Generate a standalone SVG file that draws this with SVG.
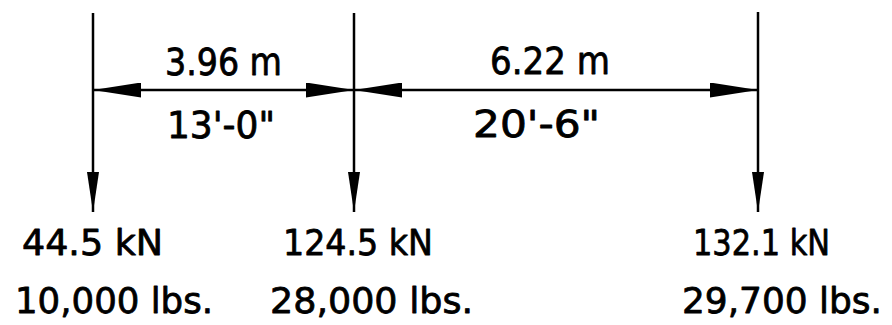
<svg xmlns="http://www.w3.org/2000/svg" width="892" height="325" viewBox="0 0 892 325">
  <style>
    .ln { stroke: #000; stroke-width: 2.5; fill: none; }
    .t { font-family: "DejaVu Sans", "Liberation Sans", sans-serif; fill: #000; stroke: #000; stroke-width: 0.8; stroke-linejoin: round; }
    .dim { font-size: 38px; }
    .ld { font-size: 36px; }
  </style>
  <defs>
    <marker id="vhead" viewBox="0 0 40 12" refX="40" refY="6" markerWidth="40" markerHeight="12" markerUnits="userSpaceOnUse" orient="auto">
      <path d="M0,0 L40,6 L0,12 Z" fill="#000"/>
    </marker>
    <marker id="hhead" viewBox="0 0 48 15" refX="48" refY="7.5" markerWidth="48" markerHeight="15" markerUnits="userSpaceOnUse" orient="auto-start-reverse">
      <path d="M0,0 L48,7.5 L0,15 Z" fill="#000"/>
    </marker>
  </defs>

  <g id="connectors">
    <line class="ln" x1="93" y1="13" x2="93" y2="212" marker-end="url(#vhead)"/>
    <line class="ln" x1="354" y1="13" x2="354" y2="212" marker-end="url(#vhead)"/>
    <line class="ln" x1="758" y1="12" x2="758" y2="212" marker-end="url(#vhead)"/>
    <line class="ln" x1="93" y1="90" x2="354" y2="90" marker-start="url(#hhead)" marker-end="url(#hhead)"/>
    <line class="ln" x1="354" y1="90" x2="758" y2="90" marker-start="url(#hhead)" marker-end="url(#hhead)"/>
  </g>

  <g id="dim1">
    <text class="t dim" x="165" y="75" textLength="117" lengthAdjust="spacingAndGlyphs">3.96 m</text>
    <text class="t dim" x="167" y="138" textLength="108" lengthAdjust="spacingAndGlyphs">13'-0"</text>
  </g>
  <g id="dim2">
    <text class="t dim" x="490" y="74" textLength="120" lengthAdjust="spacingAndGlyphs">6.22 m</text>
    <text class="t dim" x="473" y="137" textLength="127" lengthAdjust="spacingAndGlyphs">20'-6"</text>
  </g>

  <g id="load1">
    <text class="t ld" x="22" y="255" textLength="141" lengthAdjust="spacingAndGlyphs">44.5 kN</text>
    <text class="t ld" x="15" y="313" textLength="198" lengthAdjust="spacingAndGlyphs">10,000 lbs.</text>
  </g>
  <g id="load2">
    <text class="t ld" x="283" y="255" textLength="150" lengthAdjust="spacingAndGlyphs">124.5 kN</text>
    <text class="t ld" x="270" y="313" textLength="203" lengthAdjust="spacingAndGlyphs">28,000 lbs.</text>
  </g>
  <g id="load3">
    <text class="t ld" x="693" y="255" textLength="137" lengthAdjust="spacingAndGlyphs">132.1 kN</text>
    <text class="t ld" x="682" y="313" textLength="200" lengthAdjust="spacingAndGlyphs">29,700 lbs.</text>
  </g>
</svg>
